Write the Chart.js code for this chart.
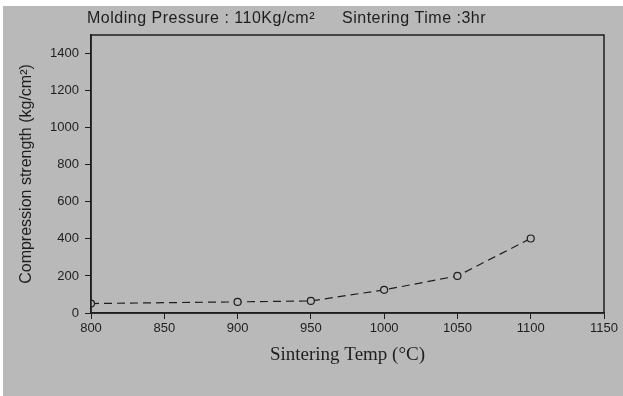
<!DOCTYPE html>
<html>
<head>
<meta charset="utf-8">
<script src="https://cdn.jsdelivr.net/npm/chart.js@4"></script>
<style>
  html, body { margin: 0; padding: 0; background: #fff; }
  #wrap { position: relative; width: 623px; height: 396px; }
  canvas { display: block; }
</style>
</head>
<body>
<div id="wrap"><canvas id="myChart" width="623" height="396"></canvas></div>
<script>
let temps = [800, 900, 950, 1000, 1050, 1100];
let strength = [51, 60, 65, 125, 200, 402];
let xTicks = [800, 850, 900, 950, 1000, 1050, 1100, 1150];
let yTicks = [0, 200, 400, 600, 800, 1000, 1200, 1400];
let headerLeft = 'Molding Pressure : 110Kg/cm\u00B2';
let headerRight = 'Sintering Time :3hr';

let ink = '#1e1e1e';
let bg = '#b9b9b9';
let sans = '"Liberation Sans", Arial, sans-serif';

// gray sheet behind everything plus the frame and the header line
let backdrop = {
  id: 'backdrop',
  beforeDraw(chart) {
    let ctx = chart.ctx;
    ctx.save();
    ctx.fillStyle = bg;
    ctx.fillRect(3, 6, chart.width - 3, chart.height - 6);
    ctx.restore();
  },
  afterDraw(chart) {
    let ctx = chart.ctx;
    let a = chart.chartArea;
    ctx.save();
    ctx.strokeStyle = ink;
    ctx.lineWidth = 1.5;
    ctx.strokeRect(a.left, a.top, a.right - a.left, a.bottom - a.top);
    ctx.fillStyle = ink;
    ctx.font = '16px ' + sans;
    ctx.letterSpacing = '0.5px';
    ctx.textBaseline = 'middle';
    ctx.fillText(headerLeft, 87, 19);
    ctx.fillText(headerRight, 342, 19);
    ctx.restore();
  }
};

new Chart(document.getElementById('myChart'), {
  type: 'line',
  data: {
    datasets: [{
      data: temps.map((t, i) => ({ x: t, y: strength[i] })),
      borderColor: ink,
      borderWidth: 1.2,
      borderDash: [8, 5],
      pointRadius: 3.5,
      pointBackgroundColor: bg,
      pointBorderColor: ink,
      pointBorderWidth: 1.2,
      tension: 0
    }]
  },
  options: {
    responsive: false,
    animation: false,
    layout: { padding: { left: 0, top: 35, right: 19, bottom: 0 } },
    plugins: { legend: { display: false }, tooltip: { enabled: false } },
    scales: {
      x: {
        type: 'linear',
        min: 800,
        max: 1150,
        afterBuildTicks: axis => { axis.ticks = xTicks.map(v => ({ value: v })); },
        afterFit: scale => { scale.height = 83; },
        grid: { drawOnChartArea: false, drawTicks: true, tickLength: 6, color: ink },
        border: { display: true, color: ink, width: 1.5 },
        ticks: { color: ink, padding: 2, maxRotation: 0, callback: v => String(v), font: { family: sans, size: 13 } },
        title: {
          display: true,
          text: 'Sintering Temp (\u00B0C)',
          color: ink,
          font: { family: '"Liberation Serif", "Times New Roman", serif', size: 19 },
          padding: { top: 0, bottom: 30 }
        }
      },
      y: {
        min: 0,
        max: 1500,
        afterBuildTicks: axis => { axis.ticks = yTicks.map(v => ({ value: v })); },
        afterFit: scale => { scale.width = 91; },
        grid: { drawOnChartArea: false, drawTicks: true, tickLength: 6, color: ink },
        border: { display: true, color: ink, width: 1.5 },
        ticks: { color: ink, padding: 6, callback: v => String(v), font: { family: sans, size: 13 } },
        title: {
          display: true,
          text: 'Compression strength (kg/cm\u00B2)',
          color: ink,
          font: { family: sans, size: 16 },
          padding: { top: 17, bottom: 0 }
        }
      }
    }
  },
  plugins: [backdrop]
});
</script>
</body>
</html>
